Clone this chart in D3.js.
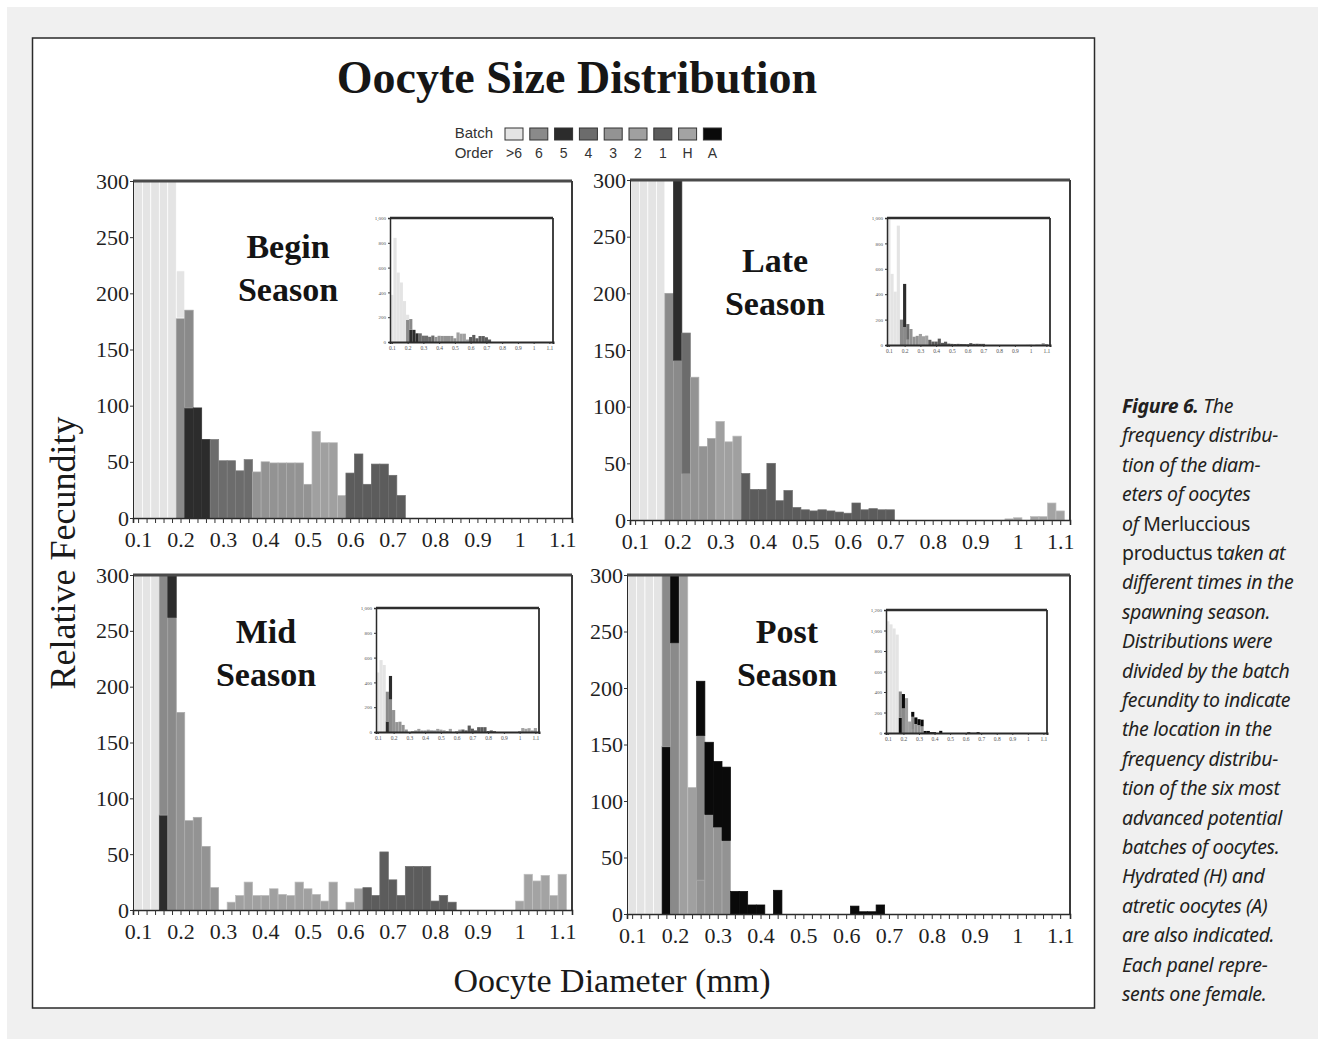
<!DOCTYPE html>
<html>
<head>
<meta charset="utf-8">
<script src="https://cdn.jsdelivr.net/npm/d3@7"></script>
<style>
  body { margin: 0; background: #fff; }
  svg { display: block; }
</style>
</head>
<body>
<div id="chartArea"></div>
<script>
// batch order as in the legend, and the grey used for each batch
var batchOrder = [">6", "6", "5", "4", "3", "2", "1", "H", "A"];
var batchColor = ["#e4e4e4", "#8a8a8a", "#2c2c2c", "#6c6c6c", "#939393", "#a0a0a0", "#5c5c5c", "#a3a3a3", "#0a0a0a"];

// diameter bins (mm, bin centre, 0.02 wide) and axis ticks
var binCenters = [0.10, 0.12, 0.14, 0.16, 0.18, 0.20, 0.22, 0.24, 0.26, 0.28,
                  0.30, 0.32, 0.34, 0.36, 0.38, 0.40, 0.42, 0.44, 0.46, 0.48,
                  0.50, 0.52, 0.54, 0.56, 0.58, 0.60, 0.62, 0.64, 0.66, 0.68,
                  0.70, 0.72, 0.74, 0.76, 0.78, 0.80, 0.82, 0.84, 0.86, 0.88,
                  0.90, 0.92, 0.94, 0.96, 0.98, 1.00, 1.02, 1.04, 1.06, 1.08, 1.10];
var diameterTicks = [0.1, 0.2, 0.3, 0.4, 0.5, 0.6, 0.7, 0.8, 0.9, 1, 1.1];
var fecundityTicks = [0, 50, 100, 150, 200, 250, 300];

// each row: diameter, then (batch, relative fecundity) pairs stacked from the bottom
var beginSeason = [
  [0.10, ">6", 380], [0.12, ">6", 840], [0.14, ">6", 560], [0.16, ">6", 480], [0.18, ">6", 330],
  [0.20, "6", 178, ">6", 42],
  [0.22, "5", 98, "6", 87],
  [0.24, "5", 98], [0.26, "5", 70],
  [0.28, "4", 70], [0.30, "4", 51], [0.32, "4", 51], [0.34, "4", 42], [0.36, "4", 52],
  [0.38, "3", 41], [0.40, "3", 50], [0.42, "3", 49], [0.44, "3", 49], [0.46, "3", 49], [0.48, "3", 49], [0.50, "3", 30],
  [0.52, "2", 77], [0.54, "2", 67], [0.56, "2", 67], [0.58, "2", 20],
  [0.60, "1", 40], [0.62, "1", 57], [0.64, "1", 30], [0.66, "1", 48], [0.68, "1", 48], [0.70, "1", 38], [0.72, "1", 20]
];

var lateSeason = [
  [0.10, ">6", 990], [0.12, ">6", 560], [0.14, ">6", 420], [0.16, ">6", 940],
  [0.18, "6", 200],
  [0.20, "6", 141, "5", 340],
  [0.22, "3", 41, "4", 124],
  [0.24, "3", 126], [0.26, "3", 65], [0.28, "3", 72],
  [0.30, "2", 87], [0.32, "2", 69], [0.34, "2", 74],
  [0.36, "1", 41], [0.38, "1", 27], [0.40, "1", 27], [0.42, "1", 50], [0.44, "1", 17], [0.46, "1", 26],
  [0.48, "1", 11], [0.50, "1", 9], [0.52, "1", 8], [0.54, "1", 9], [0.56, "1", 8], [0.58, "1", 7],
  [0.60, "1", 6], [0.62, "1", 15], [0.64, "1", 9], [0.66, "1", 10], [0.68, "1", 9], [0.70, "1", 9],
  [0.98, "H", 1], [1.00, "H", 2], [1.04, "H", 3], [1.06, "H", 3], [1.08, "H", 15], [1.10, "H", 8]
];

var midSeason = [
  [0.10, ">6", 480], [0.12, ">6", 580], [0.14, ">6", 540],
  [0.16, "5", 85, "6", 240],
  [0.18, "6", 262, "5", 190],
  [0.20, "3", 177], [0.22, "3", 80], [0.24, "3", 83], [0.26, "3", 57], [0.28, "3", 20],
  [0.32, "2", 7], [0.34, "2", 13], [0.36, "2", 25], [0.38, "2", 13], [0.40, "2", 13], [0.42, "2", 19],
  [0.44, "2", 14], [0.46, "2", 13], [0.48, "2", 25], [0.50, "2", 19], [0.52, "2", 14], [0.54, "2", 8],
  [0.56, "2", 25], [0.60, "2", 7], [0.62, "2", 19],
  [0.64, "1", 20], [0.66, "1", 13], [0.68, "1", 52], [0.70, "1", 27], [0.72, "1", 13],
  [0.74, "1", 39], [0.76, "1", 39], [0.78, "1", 39], [0.80, "1", 8], [0.82, "1", 13], [0.84, "1", 7],
  [1.00, "H", 8], [1.02, "H", 32], [1.04, "H", 26], [1.06, "H", 31], [1.08, "H", 13], [1.10, "H", 32]
];

var postSeason = [
  [0.10, ">6", 1090], [0.12, ">6", 1060], [0.14, ">6", 1020], [0.16, ">6", 960],
  [0.18, "A", 148, "6", 257],
  [0.20, "6", 240, "A", 140],
  [0.22, "2", 340], [0.24, "2", 112],
  [0.26, "3", 30, "6", 128, "A", 48],
  [0.28, "3", 88, "A", 64], [0.30, "3", 77, "A", 58], [0.32, "3", 65, "A", 65],
  [0.34, "A", 20], [0.36, "A", 20], [0.38, "A", 8], [0.40, "A", 8], [0.44, "A", 21],
  [0.62, "A", 7], [0.64, "A", 2], [0.66, "A", 2], [0.68, "A", 8]
];

var captionLines = [
  [["Figure 6.", "bi"], [" The", "i"]],
  [["frequency distribu-", "i"]],
  [["tion of the diam-", "i"]],
  [["eters of oocytes", "i"]],
  [["of ", "i"], ["Merluccious", "n"]],
  [["productus t", "n"], ["aken at", "i"]],
  [["different times in the", "i"]],
  [["spawning season.", "i"]],
  [["Distributions were", "i"]],
  [["divided by the batch", "i"]],
  [["fecundity to indicate", "i"]],
  [["the location in the", "i"]],
  [["frequency distribu-", "i"]],
  [["tion of the six most", "i"]],
  [["advanced potential", "i"]],
  [["batches of oocytes.", "i"]],
  [["Hydrated (H) and", "i"]],
  [["atretic oocytes (A)", "i"]],
  [["are also indicated.", "i"]],
  [["Each panel repre-", "i"]],
  [["sents one female.", "i"]]
];

var SERIF = "'Liberation Serif', 'Times New Roman', serif";
var color = d3.scaleOrdinal().domain(batchOrder).range(batchColor);

var svg = d3.select("#chartArea").append("svg")
    .attr("width", 1318).attr("height", 1039);

// page + figure box
svg.append("rect").attr("x", 7).attr("y", 7).attr("width", 1311).attr("height", 1032).attr("fill", "#f0f0f0");
svg.append("rect").attr("x", 32.5).attr("y", 38).attr("width", 1062).attr("height", 970)
    .attr("fill", "#fff").attr("stroke", "#2a2a2a").attr("stroke-width", 1.5);

svg.append("text")
    .attr("x", 577).attr("y", 93)
    .attr("text-anchor", "middle")
    .style("font", "bold 46px " + SERIF)
    .attr("fill", "#161616")
    .text("Oocyte Size Distribution");

// legend
var legend = svg.append("g").attr("transform", "translate(505,128)");
legend.selectAll("rect").data(batchOrder).join("rect")
    .attr("x", function (d, i) { return i * 24.8; })
    .attr("width", 18).attr("height", 12)
    .attr("fill", function (d) { return color(d); })
    .attr("stroke", "#333").attr("stroke-width", 1);
legend.selectAll("text").data(batchOrder).join("text")
    .attr("x", function (d, i) { return i * 24.8 + 9; })
    .attr("y", 30)
    .attr("text-anchor", "middle")
    .style("font", "14px 'Liberation Sans', Arial, sans-serif")
    .attr("fill", "#333")
    .text(function (d) { return d; });
legend.append("text").attr("x", -12).attr("y", 10).attr("text-anchor", "end")
    .style("font", "15px 'Liberation Sans', Arial, sans-serif").attr("fill", "#333").text("Batch");
legend.append("text").attr("x", -12).attr("y", 30).attr("text-anchor", "end")
    .style("font", "15px 'Liberation Sans', Arial, sans-serif").attr("fill", "#333").text("Order");

// axis titles
svg.append("text")
    .attr("transform", "translate(75,553) rotate(-90)")
    .attr("text-anchor", "middle")
    .style("font", "36px " + SERIF).attr("fill", "#1a1a1a")
    .text("Relative Fecundity");
svg.append("text")
    .attr("x", 612).attr("y", 992)
    .attr("text-anchor", "middle")
    .style("font", "34px " + SERIF).attr("fill", "#1a1a1a")
    .text("Oocyte Diameter (mm)");

var panels = [
  { id: "begin", rows: beginSeason, label: ["Begin", "Season"], x: 133, y: 181, w: 439, h: 337, lx: 155, ly: 77,
    inset: { x: 390, y: 218, w: 163, h: 124, ymax: 1000 } },
  { id: "late", rows: lateSeason, label: ["Late", "Season"], x: 630, y: 180, w: 440, h: 340, lx: 145, ly: 92,
    inset: { x: 887, y: 218, w: 163, h: 127, ymax: 1000 } },
  { id: "mid", rows: midSeason, label: ["Mid", "Season"], x: 133, y: 575, w: 439, h: 335, lx: 133, ly: 68,
    inset: { x: 376, y: 608, w: 163, h: 124, ymax: 1000 } },
  { id: "post", rows: postSeason, label: ["Post", "Season"], x: 627, y: 575, w: 443, h: 339, lx: 160, ly: 68,
    inset: { x: 886, y: 610, w: 161, h: 123, ymax: 1200 } }
];

// flatten a panel's rows into stacked segments
function segments(rows) {
    var out = [];
    rows.forEach(function (r) {
        var cum = 0;
        for (var i = 1; i < r.length; i += 2) {
            out.push({ d: r[0], batch: r[i], y0: cum, y1: cum + r[i + 1] });
            cum += r[i + 1];
        }
    });
    return out;
}

function drawBars(g, segs, x, y, edge) {
    g.selectAll("rect.bar").data(segs).join("rect")
        .attr("class", "bar")
        .attr("x", function (d) { return x(d.d - 0.01); })
        .attr("width", function (d) { return x(d.d + 0.01) - x(d.d - 0.01); })
        .attr("y", function (d) { return y(d.y1); })
        .attr("height", function (d) { return y(d.y0) - y(d.y1); })
        .attr("fill", function (d) { return color(d.batch); })
        .attr("stroke", function (d) { return edge ? d3.color(color(d.batch)).brighter(0.45) : "none"; })
        .attr("stroke-width", 0.7);
}

function styleAxis(a, fontSize, fill) {
    a.select(".domain").attr("stroke", "#2a2a2a");
    a.selectAll(".tick line").attr("stroke", "#333");
    a.selectAll("text").style("font", fontSize + "px " + SERIF).attr("fill", fill || "#1f1f1f");
}

panels.forEach(function (p) {
    var segs = segments(p.rows);
    var g = svg.append("g").attr("transform", "translate(" + p.x + "," + p.y + ")");

    var x = d3.scaleLinear().domain([0.088, 1.123]).range([0, p.w]);
    var y = d3.scaleLinear().domain([0, 300]).range([p.h, 0]);

    g.append("clipPath").attr("id", "clip-" + p.id)
        .append("rect").attr("width", p.w).attr("height", p.h);
    drawBars(g.append("g").attr("clip-path", "url(#clip-" + p.id + ")"), segs, x, y, true);

    // frame: heavy top, right edge
    g.append("line").attr("x1", 0).attr("x2", p.w).attr("y1", 0).attr("y2", 0)
        .attr("stroke", "#4a4a4a").attr("stroke-width", 3);
    g.append("line").attr("x1", p.w).attr("x2", p.w).attr("y1", 0).attr("y2", p.h)
        .attr("stroke", "#3a3a3a").attr("stroke-width", 2);

    var ya = g.append("g").call(d3.axisLeft(y).tickValues(fecundityTicks).tickSize(3).tickPadding(1));
    styleAxis(ya, 22);

    var xMinor = g.append("g").attr("transform", "translate(0," + p.h + ")")
        .call(d3.axisBottom(x).tickValues(binCenters).tickSize(5).tickFormat(""));
    styleAxis(xMinor, 22);
    xMinor.select(".domain").attr("stroke-width", 1.6);
    var xa = g.append("g").attr("transform", "translate(0," + p.h + ")")
        .call(d3.axisBottom(x).tickValues(diameterTicks).tickSize(0).tickPadding(13)
            .tickFormat(function (d) { return String(d); }));
    xa.select(".domain").remove();
    styleAxis(xa, 22);

    // season label
    g.selectAll("text.season").data(p.label).join("text")
        .attr("class", "season")
        .attr("x", p.lx).attr("y", function (d, i) { return p.ly + i * 43; })
        .attr("text-anchor", "middle")
        .style("font", "bold 34px " + SERIF).attr("fill", "#141414")
        .text(function (d) { return d; });

    // inset with the full (unclipped) distribution
    var ins = p.inset;
    var gi = svg.append("g").attr("transform", "translate(" + ins.x + "," + ins.y + ")");
    var xi = d3.scaleLinear().domain([0.088, 1.123]).range([0, ins.w]);
    var yi = d3.scaleLinear().domain([0, ins.ymax]).range([ins.h, 0]);
    gi.append("rect").attr("width", ins.w).attr("height", ins.h).attr("fill", "#fff");
    drawBars(gi, segs, xi, yi, false);
    gi.append("line").attr("x1", 0).attr("x2", ins.w).attr("y1", 0).attr("y2", 0)
        .attr("stroke", "#2e2e2e").attr("stroke-width", 2.5);
    gi.append("line").attr("x1", ins.w).attr("x2", ins.w).attr("y1", 0).attr("y2", ins.h)
        .attr("stroke", "#2e2e2e").attr("stroke-width", 1.8);
    var yia = gi.append("g").call(d3.axisLeft(yi).tickValues(d3.range(0, ins.ymax + 1, 200)).tickSize(2).tickPadding(2));
    styleAxis(yia, 5, "#555");
    yia.select(".domain").attr("stroke-width", 1.5);
    var xia = gi.append("g").attr("transform", "translate(0," + ins.h + ")")
        .call(d3.axisBottom(xi).tickValues(diameterTicks).tickSize(2).tickPadding(2)
            .tickFormat(function (d) { return String(d); }));
    styleAxis(xia, 5.5, "#555");
    xia.select(".domain").attr("stroke-width", 2);
});

// caption
var cap = svg.append("text")
    .attr("x", 1122).attr("y", 413)
    .style("font-family", "'Noto Sans', 'Open Sans', sans-serif")
    .style("font-size", "19.5px")
    .style("letter-spacing", "-0.35px")
    .attr("fill", "#231f20");
captionLines.forEach(function (line, i) {
    line.forEach(function (part, j) {
        var t = cap.append("tspan").text(part[0])
            .style("font-style", part[1] === "n" ? "normal" : "italic")
            .style("font-weight", part[1] === "bi" ? "bold" : "normal");
        if (j === 0) t.attr("x", 1122).attr("y", 413 + i * 29.4);
    });
});
</script>
</body>
</html>
